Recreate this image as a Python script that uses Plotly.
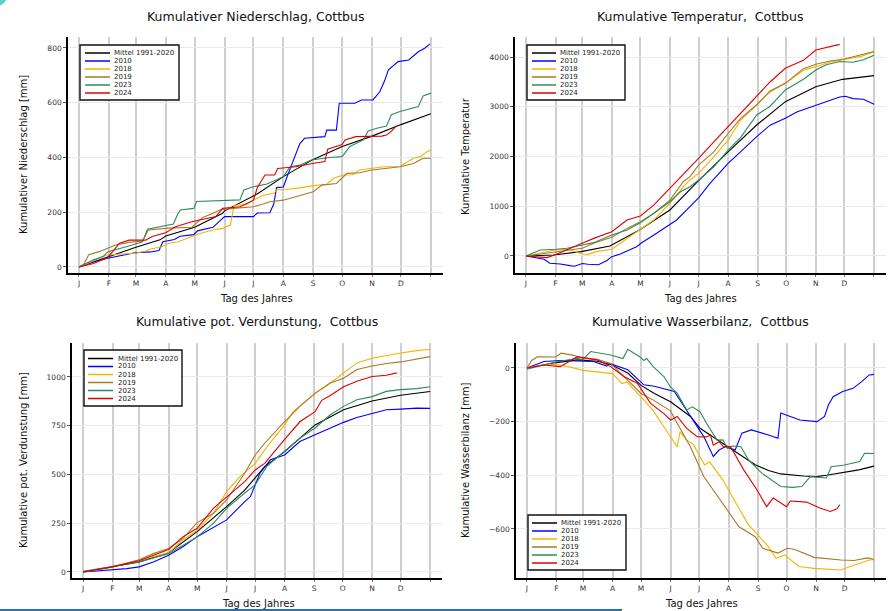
import plotly.graph_objects as go

# ---------------- data ----------------
MONTH_DAYS = [1, 32, 60, 91, 121, 152, 182, 213, 244, 274, 305, 335]
MONTH_LABELS = ["J", "F", "M", "A", "M", "J", "J", "A", "S", "O", "N", "D"]
YEAR_END = 366
SERIES_NAMES = ["Mittel 1991-2020", "2010", "2018", "2019", "2023", "2024"]

# Kumulativer Niederschlag [mm]  (day of year, value)
n_mittel = [(1, 0), (32, 38), (60, 72), (85, 99), (91, 113), (121, 145), (150, 196), (152, 205), (182, 258), (187, 269),
            (213, 330), (244, 393), (274, 440), (305, 478), (335, 520), (366, 560)]
n_2010 = [(1, 0), (16, 20), (31, 32), (47, 45), (59, 52), (75, 55), (84, 60), (88, 92), (100, 100), (106, 112),
          (120, 118), (124, 132), (140, 145), (146, 165), (152, 184), (182, 184), (186, 197), (199, 198), (203, 230),
          (206, 290), (213, 292), (218, 340), (225, 405), (230, 450), (235, 470), (256, 476), (258, 500), (268, 500),
          (271, 598), (287, 598), (294, 610), (306, 610), (313, 640), (318, 680), (322, 720), (332, 750), (343, 756),
          (353, 786), (360, 800), (365, 815)]
n_2018 = [(1, 0), (10, 13), (30, 44), (61, 51), (70, 58), (74, 65), (87, 74), (94, 87), (104, 92), (118, 111),
          (129, 125), (140, 135), (150, 141), (158, 153), (162, 225), (175, 228), (182, 244), (192, 262), (203, 269),
          (206, 281), (216, 283), (230, 289), (244, 297), (258, 302), (265, 324), (275, 336), (285, 337), (292, 354),
          (305, 360), (317, 366), (334, 367), (339, 378), (348, 397), (355, 403), (362, 421), (366, 427)]
n_2019 = [(1, 0), (6, 10), (11, 45), (22, 56), (32, 70), (39, 80), (53, 90), (67, 95), (73, 135), (94, 142),
          (118, 145), (129, 180), (140, 196), (147, 208), (161, 214), (182, 220), (192, 230), (199, 238), (213, 244),
          (230, 262), (244, 275), (253, 299), (268, 305), (279, 342), (292, 344), (305, 354), (320, 360), (334, 366),
          (348, 378), (358, 397), (366, 397)]
n_2023 = [(1, 0), (16, 26), (26, 38), (31, 56), (50, 74), (67, 92), (72, 138), (85, 147), (99, 157), (103, 190),
          (106, 208), (120, 214), (123, 239), (168, 245), (172, 281), (182, 293), (196, 303), (213, 330), (220, 366),
          (230, 372), (242, 391), (261, 400), (274, 403), (282, 440), (296, 464), (301, 497), (310, 507), (320, 515),
          (325, 556), (334, 568), (348, 580), (353, 586), (358, 625), (366, 635)]
n_2024 = [(1, 0), (16, 13), (30, 33), (36, 56), (43, 87), (53, 98), (70, 98), (77, 111), (91, 125), (101, 147),
          (118, 165), (129, 174), (143, 184), (150, 214), (168, 220), (182, 244), (186, 290), (194, 336), (204, 336),
          (207, 360), (226, 366), (243, 378), (256, 385), (259, 430), (274, 447), (277, 464), (288, 476), (315, 478),
          (320, 482), (325, 495), (330, 515)]

# Kumulative Temperatur
t_mittel = [(1, 0), (30, 20), (59, 87), (89, 201), (120, 522), (152, 925), (181, 1494), (213, 2094), (243, 2633),
            (273, 3102), (305, 3404), (333, 3551), (366, 3625)]
t_2010 = [(1, 0), (12, -45), (20, -67), (26, -147), (37, -160), (47, -194), (52, -205), (60, -150), (66, -167),
          (77, -175), (86, -90), (91, -13), (100, 40), (117, 187), (122, 260), (138, 456), (152, 642), (159, 724),
          (173, 991), (182, 1170), (194, 1458), (213, 1860), (226, 2094), (243, 2399), (257, 2629), (273, 2767),
          (285, 2896), (305, 3035), (316, 3097), (330, 3197), (336, 3211), (344, 3164), (355, 3150), (366, 3050)]
t_2018 = [(1, 0), (16, 53), (31, 120), (44, 134), (60, 40), (66, 33), (75, 87), (91, 134), (100, 254), (114, 455),
          (121, 535), (135, 722), (152, 1057), (166, 1391), (173, 1528), (182, 1659), (198, 1993), (213, 2328),
          (226, 2729), (243, 3035), (257, 3298), (273, 3471), (292, 3732), (305, 3806), (320, 3900), (335, 3950),
          (352, 4013), (366, 4100)]
t_2019 = [(1, 0), (16, 40), (31, 74), (60, 154), (72, 254), (91, 375), (107, 555), (121, 689), (135, 856),
          (152, 1124), (166, 1492), (173, 1594), (182, 1826), (198, 2094), (213, 2462), (226, 2763), (243, 3040),
          (257, 3318), (273, 3471), (292, 3766), (305, 3853), (320, 3920), (335, 3960), (352, 4047), (366, 4110)]
t_2023 = [(1, 0), (16, 120), (33, 134), (44, 154), (60, 220), (72, 268), (91, 421), (107, 522), (121, 669),
          (135, 856), (152, 1090), (163, 1291), (173, 1393), (182, 1525), (198, 1793), (213, 2127), (226, 2381),
          (243, 2834), (257, 3010), (273, 3337), (292, 3552), (305, 3739), (316, 3846), (330, 3910), (344, 3893),
          (355, 3946), (366, 4033)]
t_2024 = [(1, 0), (12, -15), (23, -33), (31, 20), (44, 120), (60, 254), (72, 354), (91, 488), (107, 722),
          (121, 803), (135, 1023), (152, 1358), (166, 1625), (173, 1763), (182, 1960), (198, 2294), (213, 2595),
          (226, 2863), (243, 3203), (257, 3498), (273, 3772), (292, 3933), (305, 4141), (316, 4187), (330, 4254)]

# Kumulative pot. Verdunstung [mm]
v_mittel = [(1, 0), (32, 26), (60, 51), (91, 99), (121, 207), (152, 335), (171, 420), (192, 540), (213, 617),
            (245, 754), (275, 832), (305, 877), (335, 906), (366, 925)]
v_2010 = [(1, 0), (32, 9), (47, 17), (60, 26), (75, 51), (91, 86), (106, 129), (121, 181), (138, 226), (152, 267),
          (171, 361), (177, 386), (187, 506), (198, 575), (213, 600), (229, 669), (245, 703), (261, 738), (275, 767),
          (289, 792), (305, 814), (320, 832), (335, 835), (352, 840), (366, 839)]
v_2018 = [(1, 0), (32, 26), (60, 60), (91, 98), (106, 163), (121, 214), (138, 300), (152, 412), (166, 489),
          (182, 557), (192, 626), (213, 754), (222, 822), (245, 916), (261, 969), (275, 1019), (289, 1072),
          (305, 1096), (320, 1110), (335, 1123), (352, 1135), (366, 1142)]
v_2019 = [(1, 0), (32, 26), (60, 63), (75, 94), (91, 120), (106, 171), (121, 253), (138, 300), (152, 369),
          (171, 506), (182, 600), (192, 660), (213, 771), (229, 849), (245, 916), (261, 969), (275, 993),
          (289, 1038), (305, 1056), (320, 1069), (335, 1077), (352, 1093), (366, 1104)]
v_2023 = [(1, 3), (15, 15), (32, 26), (60, 51), (91, 94), (106, 137), (121, 180), (138, 249), (152, 326),
          (171, 405), (182, 446), (194, 540), (213, 617), (229, 686), (245, 738), (261, 806), (275, 849), (289, 883),
          (305, 899), (320, 926), (335, 935), (352, 940), (366, 950)]
v_2024 = [(1, 0), (32, 26), (60, 57), (91, 115), (106, 180), (121, 224), (138, 326), (152, 386), (171, 463),
          (182, 523), (192, 557), (213, 680), (229, 770), (245, 822), (252, 880), (261, 905), (275, 950), (289, 978),
          (305, 1002), (320, 1009), (331, 1021)]

# Kumulative Wasserbilanz [mm]
w_mittel = [(1, 0), (19, 12), (32, 20), (54, 30), (75, 25), (89, 13), (100, -5), (107, -19), (121, -65),
            (135, -95), (152, -126), (173, -181), (183, -225), (207, -281), (224, -324), (241, -361), (255, -382),
            (268, -395), (292, -403), (305, -405), (316, -400), (331, -390), (350, -380), (366, -366)]
w_2010 = [(1, 0), (9, 11), (19, 24), (36, 28), (71, 24), (85, 7), (88, 17), (107, -7), (124, -63), (135, -68),
          (149, -80), (156, -88), (163, -126), (173, -181), (182, -231), (187, -256), (197, -330), (203, -306),
          (210, -293), (220, -306), (227, -243), (237, -231), (255, -250), (265, -262), (268, -168), (288, -194),
          (306, -200), (314, -181), (318, -138), (323, -107), (333, -88), (344, -76), (353, -51), (361, -26),
          (366, -24)]
w_2018 = [(1, 0), (15, 10), (31, 14), (43, 6), (60, -9), (75, -15), (91, -21), (101, -58), (106, -52), (121, -108),
          (134, -160), (148, -235), (159, -294), (162, -238), (169, -269), (176, -285), (188, -362), (193, -350),
          (207, -417), (217, -480), (234, -585), (255, -666), (263, -710), (272, -697), (287, -740), (303, -747),
          (331, -753), (341, -740), (361, -716), (366, -715)]
w_2019 = [(1, 0), (6, 28), (12, 42), (31, 41), (37, 55), (50, 47), (60, 35), (75, 32), (89, 17), (107, -45),
          (121, -95), (134, -120), (145, -144), (152, -160), (159, -206), (173, -295), (187, -405), (207, -504),
          (224, -592), (241, -629), (249, -672), (265, -690), (275, -672), (282, -676), (303, -706), (331, -716),
          (345, -718), (359, -708), (366, -713)]
w_2023 = [(1, -5), (19, 11), (31, 22), (54, 36), (60, 30), (64, 47), (68, 61), (89, 48), (102, 35), (107, 70),
          (120, 41), (124, 28), (127, 35), (134, 4), (145, -32), (152, -71), (159, -94), (169, -157), (175, -145),
          (183, -163), (190, -207), (201, -269), (207, -268), (212, -300), (217, -291), (226, -294), (234, -343),
          (248, -392), (268, -442), (280, -445), (290, -442), (299, -405), (316, -410), (321, -368), (335, -362),
          (351, -349), (356, -318), (366, -319)]
w_2024 = [(1, 0), (19, 11), (36, 5), (54, 42), (75, 30), (89, 5), (103, -32), (117, -57), (131, -132),
          (145, -170), (152, -194), (159, -181), (169, -225), (180, -256), (190, -257), (194, -250), (197, -288),
          (203, -275), (208, -294), (215, -293), (229, -380), (243, -455), (253, -517), (260, -485), (274, -517),
          (278, -496), (295, -500), (309, -522), (320, -535), (327, -525), (330, -510)]

# ---------------- styling / layout ----------------
W, H = 888, 611
COLORS = ["#000000", "#0000ff", "#f5b400", "#a57a28", "#2e8b57", "#e00000"]
FONT = "DejaVu Sans"


def px(x):
    return x / W


def py(y):
    return 1 - y / H


panels = [
    dict(series=[n_mittel, n_2010, n_2018, n_2019, n_2023, n_2024],
         title="Kumulativer Niederschlag, Cottbus", ylabel="Kumulativer Niederschlag [mm]",
         xdom=(68, 443), ydom=(37, 273), xr=(-10.4, 378.6), yr=(-22, 840), yt=[0, 200, 400, 600, 800],
         title_xy=(255, 16), xlab_xy=(256, 298), ylab_xy=(23, 155),
         leg=dict(box=(80, 45, 179, 100), lx=(85, 110), tx=113, y0=53)),
    dict(series=[t_mittel, t_2010, t_2018, t_2019, t_2023, t_2024],
         title="Kumulative Temperatur,  Cottbus", ylabel="Kumulative Temperatur",
         xdom=(515, 886), ydom=(37, 273), xr=(-10.5, 378.6), yr=(-342, 4402), yt=[0, 1000, 2000, 3000, 4000],
         title_xy=(700, 16), xlab_xy=(700, 298), ylab_xy=(466, 156),
         leg=dict(box=(527, 45, 625, 100), lx=(532, 556), tx=559, y0=53)),
    dict(series=[v_mittel, v_2010, v_2018, v_2019, v_2023, v_2024],
         title="Kumulative pot. Verdunstung,  Cottbus", ylabel="Kumulative pot. Verdunstung [mm]",
         xdom=(72, 442), ydom=(343, 578), xr=(-10.6, 378.5), yr=(-31, 1174), yt=[0, 250, 500, 750, 1000],
         title_xy=(257, 321), xlab_xy=(258, 603), ylab_xy=(23, 460),
         leg=dict(box=(84, 350, 182, 406), lx=(88, 113), tx=117, y0=358.5)),
    dict(series=[w_mittel, w_2010, w_2018, w_2019, w_2023, w_2024],
         title="Kumulative Wasserbilanz,  Cottbus", ylabel="Kumulative Wasserbilanz [mm]",
         xdom=(516, 886), ydom=(343, 578), xr=(-10.5, 378.6), yr=(-783, 93), yt=[-600, -400, -200, 0],
         title_xy=(700, 321), xlab_xy=(701, 603), ylab_xy=(465, 460),
         leg=dict(box=(528, 515, 626, 570), lx=(532, 557), tx=560, y0=523)),
]

fig = go.Figure()
layout = dict(width=W, height=H, margin=dict(l=0, r=0, t=0, b=0),
              paper_bgcolor="white", plot_bgcolor="white", showlegend=False,
              font=dict(family=FONT, color="#222"))
annotations = []
shapes = []

for i, p in enumerate(panels, start=1):
    xa = "x" if i == 1 else f"x{i}"
    ya = "y" if i == 1 else f"y{i}"
    for name, col, pts in zip(SERIES_NAMES, COLORS, p["series"]):
        fig.add_trace(go.Scatter(x=[d for d, v in pts], y=[v for d, v in pts], mode="lines", name=name,
                                 line=dict(color=col, width=1.1), xaxis=xa, yaxis=ya,
                                 hoverinfo="x+y+name"))
    xkey = "xaxis" if i == 1 else f"xaxis{i}"
    ykey = "yaxis" if i == 1 else f"yaxis{i}"
    layout[xkey] = dict(domain=[px(p["xdom"][0]), px(p["xdom"][1])], range=list(p["xr"]), anchor=ya,
                        tickvals=MONTH_DAYS + [YEAR_END], ticktext=MONTH_LABELS + [""],
                        showgrid=True, gridcolor="#cfcfcf", gridwidth=1.6, zeroline=False,
                        showline=True, linecolor="#000", linewidth=1.6, ticks="outside", ticklen=2,
                        tickcolor="#777", tickfont=dict(size=7.5, color="#333", family=FONT))
    layout[ykey] = dict(domain=[py(p["ydom"][1]), py(p["ydom"][0])], range=list(p["yr"]), anchor=xa,
                        tickvals=p["yt"], showgrid=True, gridcolor="#e9e9e9", gridwidth=1, zeroline=False,
                        showline=True, linecolor="#000", linewidth=1.6, ticks="outside", ticklen=3,
                        tickcolor="#555", tickfont=dict(size=7.5, color="#333", family=FONT))
    # titles
    annotations.append(dict(text=p["title"], x=px(p["title_xy"][0]), y=py(p["title_xy"][1]), xref="paper",
                            yref="paper", showarrow=False, xanchor="center", yanchor="middle",
                            font=dict(size=12.5, color="#111", family=FONT)))
    annotations.append(dict(text="Tag des Jahres", x=px(p["xlab_xy"][0]), y=py(p["xlab_xy"][1]), xref="paper",
                            yref="paper", showarrow=False, xanchor="center", yanchor="middle",
                            font=dict(size=10, color="#111", family=FONT)))
    annotations.append(dict(text=p["ylabel"], x=px(p["ylab_xy"][0]), y=py(p["ylab_xy"][1]), xref="paper",
                            yref="paper", showarrow=False, xanchor="center", yanchor="middle", textangle=-90,
                            font=dict(size=10, color="#111", family=FONT)))
    # legend box
    lg = p["leg"]
    bx0, by0, bx1, by1 = lg["box"]
    shapes.append(dict(type="rect", xref="paper", yref="paper", x0=px(bx0), x1=px(bx1), y0=py(by1), y1=py(by0),
                       line=dict(color="#111", width=1.4), fillcolor="white", layer="above"))
    for k, (name, col) in enumerate(zip(SERIES_NAMES, COLORS)):
        yy = lg["y0"] + 8 * k
        shapes.append(dict(type="line", xref="paper", yref="paper", x0=px(lg["lx"][0]), x1=px(lg["lx"][1]),
                           y0=py(yy), y1=py(yy), line=dict(color=col, width=1.5), layer="above"))
        annotations.append(dict(text=name, x=px(lg["tx"]), y=py(yy), xref="paper", yref="paper",
                                showarrow=False, xanchor="left", yanchor="middle", borderpad=0,
                                font=dict(size=7, color="#222", family=FONT)))

# screenshot artefacts: teal corner blob and blue bottom line
shapes.append(dict(type="circle", xref="paper", yref="paper", x0=px(-14), x1=px(7), y0=py(6), y1=py(-14),
                   fillcolor="#5fd0c4", line=dict(width=0), layer="above"))
shapes.append(dict(type="line", xref="paper", yref="paper", x0=0, x1=px(622), y0=py(610), y1=py(610),
                   line=dict(color="#2f6db0", width=2), layer="above"))

layout["annotations"] = annotations
layout["shapes"] = shapes
fig.update_layout(**layout)
fig.write_html("out.html", config={"displayModeBar": False},
               post_script="document.body.style.margin='0';document.body.style.overflow='hidden';")
